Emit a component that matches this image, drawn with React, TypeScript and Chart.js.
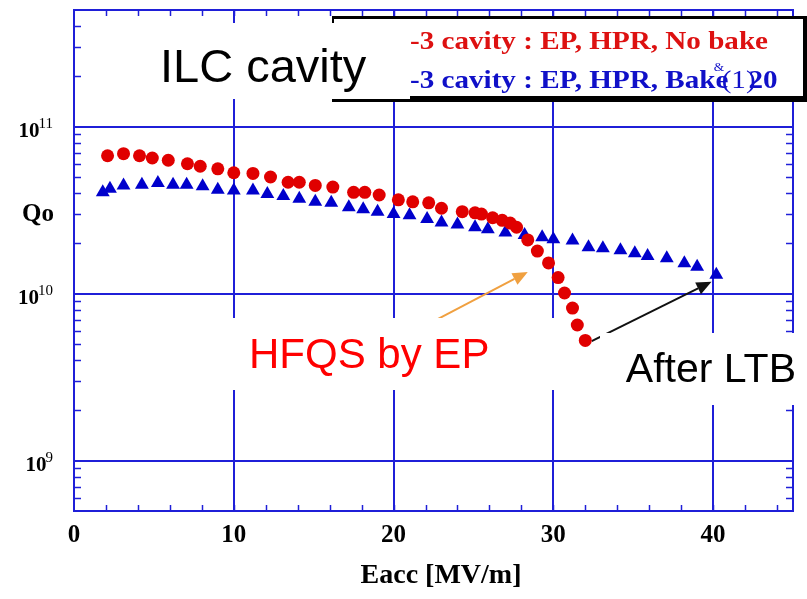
import React, { useEffect, useRef } from "react";
import { Chart, registerables } from "chart.js";

Chart.register(...registerables);

// ---- data ----
const noBakeE = [2.1, 3.1, 4.1, 4.9, 5.9, 7.1, 7.9, 9.0, 10.0, 11.2, 12.3, 13.4, 14.1, 15.1, 16.2, 17.5, 18.2, 19.1, 20.3, 21.2, 22.2, 23.0, 24.3, 25.1, 25.5, 26.2, 26.8, 27.3, 27.7, 28.4, 29.0, 29.7, 30.3, 30.7, 31.2, 31.5, 32.0];
const noBakeQ = [6.7e10, 6.9e10, 6.7e10, 6.5e10, 6.3e10, 6.0e10, 5.8e10, 5.6e10, 5.3e10, 5.25e10, 5.0e10, 4.65e10, 4.65e10, 4.45e10, 4.35e10, 4.05e10, 4.05e10, 3.9e10, 3.65e10, 3.55e10, 3.5e10, 3.25e10, 3.1e10, 3.05e10, 3.0e10, 2.85e10, 2.75e10, 2.65e10, 2.5e10, 2.1e10, 1.8e10, 1.53e10, 1.25e10, 1.01e10, 8.2e9, 6.5e9, 5.25e9];

const bakeE = [1.8, 2.25, 3.1, 4.25, 5.25, 6.2, 7.05, 8.05, 9.0, 10.0, 11.2, 12.1, 13.1, 14.1, 15.1, 16.1, 17.2, 18.1, 19.0, 20.0, 21.0, 22.1, 23.0, 24.0, 25.1, 25.9, 27.0, 28.2, 29.3, 30.0, 31.2, 32.2, 33.1, 34.2, 35.1, 35.9, 37.1, 38.2, 39.0, 40.2];
const bakeQ = [4.05e10, 4.25e10, 4.45e10, 4.5e10, 4.6e10, 4.5e10, 4.5e10, 4.4e10, 4.2e10, 4.15e10, 4.15e10, 3.95e10, 3.85e10, 3.7e10, 3.55e10, 3.5e10, 3.3e10, 3.2e10, 3.1e10, 3.0e10, 2.95e10, 2.8e10, 2.67e10, 2.6e10, 2.5e10, 2.43e10, 2.33e10, 2.25e10, 2.18e10, 2.12e10, 2.08e10, 1.9e10, 1.87e10, 1.82e10, 1.75e10, 1.68e10, 1.63e10, 1.52e10, 1.45e10, 1.3e10];

const xTickLabels = ["0", "10", "20", "30", "40"];
const xMinorStep = 2;
const yDecades = [9, 10, 11];
const yMinorMultipliers = [2, 3, 4, 5, 6, 7, 8, 9];
const legendLabels = ["-3 cavity : EP, HPR, No bake", "-3 cavity : EP, HPR, Bake"];
const legendTail = ["(1)", "20"];
const xTitle = "Eacc [MV/m]";
const yTitle = "Qo";
const boxTitle = "ILC cavity";
const note1 = "HFQS by EP";
const note2 = "After LTB";
// annotation arrows in data space [E, Q]
const orangeArrow = [[22.7, 7.0e9], [28.4, 1.35e10]];
const blackArrow = [[32.4, 5.2e9], [39.9, 1.18e10]];

const X_MIN = 0, X_MAX = 45, Y_MIN = 5e8, Y_MAX = 5e11;

const FRAME = "#1f1fd8";
const RED = "#e00000";
const BLUE = "#0000cc";
const SERIF = "'Liberation Serif', 'Times New Roman', serif";
const SANS = "'Liberation Sans', Arial, sans-serif";

function arrow(ctx: CanvasRenderingContext2D, x1: number, y1: number, x2: number, y2: number, color: string) {
  const ang = Math.atan2(y2 - y1, x2 - x1);
  const hl = 15, hw = 6.5;
  const bx = x2 - Math.cos(ang) * hl, by = y2 - Math.sin(ang) * hl;
  ctx.strokeStyle = color;
  ctx.fillStyle = color;
  ctx.lineWidth = 2;
  ctx.beginPath();
  ctx.moveTo(x1, y1);
  ctx.lineTo(bx, by);
  ctx.stroke();
  ctx.beginPath();
  ctx.moveTo(x2, y2);
  ctx.lineTo(bx + Math.sin(ang) * hw, by - Math.cos(ang) * hw);
  ctx.lineTo(bx - Math.sin(ang) * hw, by + Math.cos(ang) * hw);
  ctx.closePath();
  ctx.fill();
}

const decor = {
  id: "decor",
  beforeDatasetsDraw(chart: any) {
    const { ctx, chartArea: a } = chart;
    const x = chart.scales.x, y = chart.scales.y;
    ctx.save();
    // major grid
    ctx.strokeStyle = FRAME;
    ctx.lineWidth = 2;
    for (const lab of xTickLabels) {
      const v = Number(lab);
      if (v === X_MIN) continue;
      const px = Math.round(x.getPixelForValue(v));
      ctx.beginPath(); ctx.moveTo(px, a.top); ctx.lineTo(px, a.bottom); ctx.stroke();
    }
    for (const e of yDecades) {
      const py = Math.round(y.getPixelForValue(Math.pow(10, e)));
      ctx.beginPath(); ctx.moveTo(a.left, py); ctx.lineTo(a.right, py); ctx.stroke();
    }
    // minor ticks, inward
    ctx.lineWidth = 1.5;
    for (let v = X_MIN + xMinorStep; v < X_MAX; v += xMinorStep) {
      const px = Math.round(x.getPixelForValue(v)) + 0.5;
      ctx.beginPath(); ctx.moveTo(px, a.bottom); ctx.lineTo(px, a.bottom - 6); ctx.stroke();
      ctx.beginPath(); ctx.moveTo(px, a.top); ctx.lineTo(px, a.top + 6); ctx.stroke();
    }
    for (let e = 8; e <= 11; e++) {
      for (const m of yMinorMultipliers) {
        const v = m * Math.pow(10, e);
        if (v <= Y_MIN || v >= Y_MAX) continue;
        const py = Math.round(y.getPixelForValue(v)) + 0.5;
        ctx.beginPath(); ctx.moveTo(a.left, py); ctx.lineTo(a.left + 7, py); ctx.stroke();
        ctx.beginPath(); ctx.moveTo(a.right, py); ctx.lineTo(a.right - 7, py); ctx.stroke();
      }
    }
    // frame
    ctx.lineWidth = 2;
    ctx.strokeRect(a.left, a.top, a.right - a.left, a.bottom - a.top);

    // arrows
    arrow(ctx, x.getPixelForValue(orangeArrow[0][0]), y.getPixelForValue(orangeArrow[0][1]),
      x.getPixelForValue(orangeArrow[1][0]), y.getPixelForValue(orangeArrow[1][1]), "#f0a040");
    arrow(ctx, x.getPixelForValue(blackArrow[0][0]), y.getPixelForValue(blackArrow[0][1]),
      x.getPixelForValue(blackArrow[1][0]), y.getPixelForValue(blackArrow[1][1]), "#111111");

    // white boxes behind the notes
    ctx.fillStyle = "#ffffff";
    ctx.fillRect(229, 318, 333, 72);
    ctx.fillRect(600, 333, 207, 72);

    // legend box
    ctx.fillStyle = "#ffffff";
    ctx.fillRect(332, 16, 475, 86);
    ctx.fillStyle = "#000000";
    ctx.fillRect(332, 16, 475, 3);
    ctx.fillRect(332, 16, 2, 86);
    ctx.fillRect(803, 16, 4, 86);
    ctx.fillRect(332, 96, 475, 6);

    // legend text
    ctx.font = `bold 26px ${SERIF}`;
    ctx.textBaseline = "alphabetic";
    ctx.textAlign = "left";
    const w0 = ctx.measureText(legendLabels[0]).width;
    const sx = 358 / w0;
    ctx.save();
    ctx.translate(410, 49);
    ctx.scale(sx, 1);
    ctx.fillStyle = "#dd1111";
    ctx.fillText(legendLabels[0], 0, 0);
    ctx.restore();
    ctx.save();
    ctx.translate(410, 88);
    ctx.scale(sx, 1);
    ctx.fillStyle = "#1010c8";
    ctx.fillText(legendLabels[1], 0, 0);
    const wb = ctx.measureText(legendLabels[1]).width;
    ctx.fillText(legendTail[1], wb + 18, 0);
    ctx.font = `26px ${SERIF}`;
    ctx.fillText(legendTail[0], wb - 6, 0);
    ctx.font = `12px ${SERIF}`;
    ctx.fillText("&", wb - 13, -17);
    ctx.restore();

    // ILC cavity box
    ctx.fillStyle = "#ffffff";
    ctx.fillRect(140, 23, 270, 76);
    ctx.fillStyle = "#000000";
    ctx.font = `47px ${SANS}`;
    ctx.fillText(boxTitle, 160, 82);

    // notes
    ctx.font = `42px ${SANS}`;
    ctx.fillStyle = "#ff0000";
    ctx.fillText(note1, 249, 368);
    ctx.font = `41px ${SANS}`;
    ctx.fillStyle = "#000000";
    ctx.textAlign = "right";
    ctx.fillText(note2, 796, 382);

    // y tick labels with superscripts
    for (const e of yDecades) {
      const py = y.getPixelForValue(Math.pow(10, e));
      ctx.fillStyle = "#000000";
      ctx.textAlign = "left";
      ctx.font = `15px ${SERIF}`;
      const sup = String(e);
      const sw = ctx.measureText(sup).width;
      const right = 53;
      ctx.fillText(sup, right - sw, py + 1);
      ctx.font = `bold 21px ${SERIF}`;
      ctx.textAlign = "right";
      ctx.fillText("10", right - sw + 1, py + 10);
    }

    // axis titles
    ctx.textAlign = "left";
    ctx.font = `bold 25px ${SERIF}`;
    ctx.fillText(yTitle, 22, 221);
    ctx.textAlign = "center";
    ctx.font = `bold 28px ${SERIF}`;
    ctx.fillText(xTitle, 441, 583);
    ctx.restore();
  },
};

export default function App() {
  const ref = useRef<HTMLCanvasElement>(null);
  useEffect(() => {
    const chart = new Chart(ref.current as HTMLCanvasElement, {
      type: "scatter",
      data: {
        datasets: [
          {
            label: legendLabels[0],
            data: noBakeE.map((e, i) => ({ x: e, y: noBakeQ[i] })),
            pointStyle: "circle",
            pointRadius: 6.5,
            pointBackgroundColor: RED,
            pointBorderWidth: 0,
            showLine: false,
          },
          {
            label: legendLabels[1],
            data: bakeE.map((e, i) => ({ x: e, y: bakeQ[i] })),
            pointStyle: "triangle",
            pointRadius: 8,
            pointBackgroundColor: BLUE,
            pointBorderWidth: 0,
            showLine: false,
          },
        ],
      },
      options: {
        responsive: false,
        maintainAspectRatio: false,
        devicePixelRatio: 1,
        animation: false,
        layout: { padding: { top: 10, right: 14, left: 0, bottom: 0 } },
        plugins: { legend: { display: false }, tooltip: { enabled: false } },
        scales: {
          x: {
            type: "linear",
            min: X_MIN,
            max: X_MAX,
            grid: { display: false },
            border: { display: false },
            ticks: {
              stepSize: 10,
              autoSkip: false,
              maxRotation: 0,
              padding: 2,
              color: "#000000",
              font: { family: SERIF, weight: "bold", size: 25 },
              callback: (v: any) => (xTickLabels.includes(String(v)) ? String(v) : ""),
            },
            afterFit: (s: any) => { s.height = 88; },
          },
          y: {
            type: "logarithmic",
            min: Y_MIN,
            max: Y_MAX,
            grid: { display: false },
            border: { display: false },
            ticks: { display: false },
            afterFit: (s: any) => { s.width = 74; },
          },
        },
      },
      plugins: [decor],
    } as any);
    return () => chart.destroy();
  }, []);
  return (
    <div style={{ position: "absolute", left: 0, top: 0, width: 807, height: 599, background: "#ffffff" }}>
      <canvas ref={ref} width={807} height={599} style={{ display: "block", width: 807, height: 599 }} />
    </div>
  );
}
